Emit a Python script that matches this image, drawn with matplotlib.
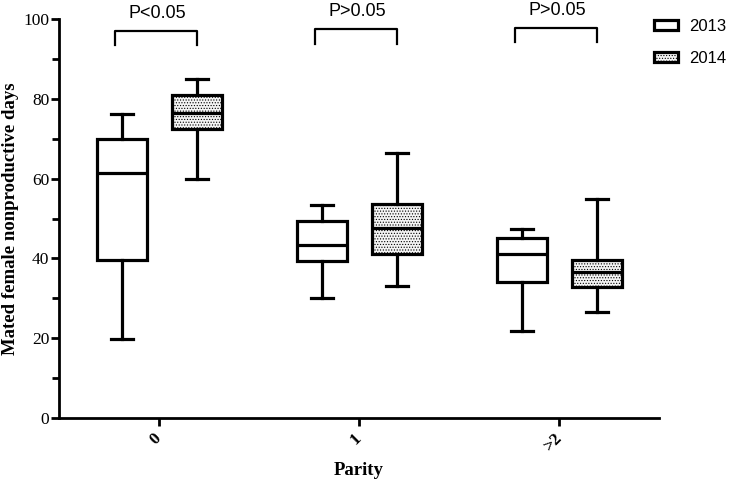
import matplotlib.pyplot as plt
from matplotlib.patches import Patch

# parity groups and years
groups = ['0', '1', '>2']
years = ['2013', '2014']

# box stats (whisker low, q1, median, q3, whisker high)
low_2013 = [19.8, 30.2, 21.9]
q1_2013 = [39.6, 39.3, 34.2]
med_2013 = [61.5, 43.4, 41.1]
q3_2013 = [70.0, 49.4, 45.1]
high_2013 = [76.1, 53.4, 47.3]

low_2014 = [59.9, 33.2, 26.5]
q1_2014 = [72.4, 41.2, 32.8]
med_2014 = [76.4, 47.7, 36.7]
q3_2014 = [81.0, 53.6, 39.7]
high_2014 = [85.0, 66.5, 55.0]

p_text = ['P<0.05', 'P>0.05', 'P>0.05']
bracket_top = [97.0, 97.4, 97.8]

plt.rcParams['font.family'] = 'Liberation Serif'
plt.rcParams['hatch.linewidth'] = 0.5
plt.rcParams['hatch.color'] = '#777777'

fig = plt.figure(figsize=(7.29, 4.8), dpi=100)
ax = fig.add_axes([59/729, 62/480, 600/729, 399/480])

def make_stats(lo, q1, med, q3, hi):
    out = []
    for i in range(len(lo)):
        out.append(dict(whislo=lo[i], q1=q1[i], med=med[i], q3=q3[i], whishi=hi[i], fliers=[]))
    return out

lw = 2.3
props = dict(showfliers=False, widths=0.25, capwidths=0.11, patch_artist=True,
             boxprops=dict(linewidth=lw, edgecolor='black'),
             whiskerprops=dict(linewidth=lw, color='black'),
             capprops=dict(linewidth=lw, color='black'),
             medianprops=dict(linewidth=lw, color='black'))

pos = [0, 1, 2]
b1 = ax.bxp(make_stats(low_2013, q1_2013, med_2013, q3_2013, high_2013),
            positions=[p - 0.1875 for p in pos], **props)
b2 = ax.bxp(make_stats(low_2014, q1_2014, med_2014, q3_2014, high_2014),
            positions=[p + 0.1875 for p in pos], **props)
for b in b1['boxes']:
    b.set_facecolor('white')
for b in b2['boxes']:
    b.set_facecolor('#f4f4f4')
    b.set_hatch('......')

# significance brackets
for i in range(3):
    x0 = pos[i] - 0.22
    x1 = pos[i] + 0.19
    t = bracket_top[i]
    ax.plot([x0, x0, x1, x1], [t - 3.6, t, t, t - 3.6], color='black', lw=1.6, clip_on=False)
    ax.text(pos[i] - 0.01, t + 2.3, p_text[i], ha='center', va='bottom',
            fontsize=13, family='Liberation Sans', clip_on=False)

ax.set_xlim(-0.5, 2.5)
ax.set_ylim(0, 100)
ax.set_xticks(pos)
ax.set_xticklabels(groups, rotation=45, ha='right', va='center', rotation_mode='anchor',
                   fontweight='bold', fontsize=12.5)
ax.set_yticks([0, 20, 40, 60, 80, 100])
ax.set_yticks([10, 30, 50, 70, 90], minor=True)
ax.tick_params(axis='y', which='major', labelsize=12.5, width=2, length=6, pad=1)
ax.tick_params(axis='y', which='minor', width=2, length=5)
ax.tick_params(axis='x', which='major', width=2, length=6, pad=7)
ax.spines['top'].set_visible(False)
ax.spines['right'].set_visible(False)
ax.spines['left'].set_linewidth(2)
ax.spines['bottom'].set_linewidth(2)

ax.set_xlabel('Parity', fontweight='bold', fontsize=13.5, labelpad=5)
ax.set_ylabel('Mated female nonproductive days', fontweight='bold', fontsize=13.5, labelpad=3)

handles = [Patch(facecolor='white', edgecolor='black', linewidth=lw),
           Patch(facecolor='#f4f4f4', edgecolor='black', linewidth=lw, hatch='......')]
fig.legend(handles, years, loc='upper left', bbox_to_anchor=(654/729, 1 - 19/480), frameon=False,
           prop={'family': 'Liberation Sans', 'size': 12}, handlelength=1.45, handleheight=0.6,
           labelspacing=1.0, handletextpad=0.65, borderpad=0, borderaxespad=0)

fig.savefig('out.png', dpi=100)
